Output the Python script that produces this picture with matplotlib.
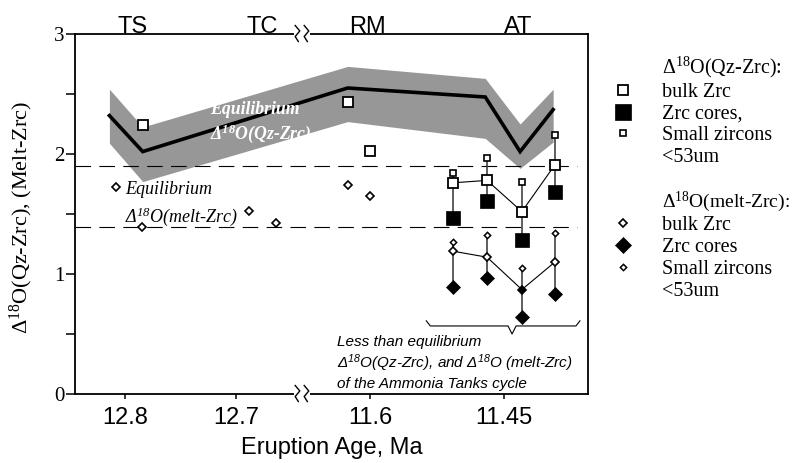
import numpy as np
import matplotlib
matplotlib.use('Agg')
import matplotlib.pyplot as plt
import matplotlib.transforms as mtransforms
from matplotlib.lines import Line2D
from matplotlib.patches import Rectangle

plt.rcParams['mathtext.fontset'] = 'custom'
plt.rcParams['mathtext.rm'] = 'Liberation Serif'

SERIF = 'Liberation Serif'
SANS = 'Liberation Sans'

# eruption cycles along the top
cycle_names = ['TS', 'TC', 'RM', 'AT']
cycle_ages = [12.793, 12.676, 11.603, 11.434]

# equilibrium Δ18O(Qz-Zrc) curve and its uncertainty band
eq_age = [12.814, 12.784, 11.625, 11.471, 11.432, 11.395]
eq_qz_zrc = [2.32, 2.02, 2.55, 2.475, 2.02, 2.37]
eq_upper = [2.54, 2.225, 2.73, 2.63, 2.25, 2.54]
eq_lower = [2.09, 1.77, 2.27, 2.13, 1.88, 2.10]

# equilibrium Δ18O(melt-Zrc) range
melt_eq_range = [1.90, 1.39]

# bulk zircon, TS / TC / RM
bulk_qz_age = [12.784, 11.625, 11.600]
bulk_qz = [2.24, 2.43, 2.025]
bulk_melt_age = [12.808, 12.785, 12.688, 12.664, 11.625, 11.600]
bulk_melt = [1.725, 1.39, 1.525, 1.425, 1.74, 1.65]

# Ammonia Tanks cycle
at_age = [11.507, 11.469, 11.430, 11.393]
at_small_qz = [1.84, 1.97, 1.77, 2.16]
at_bulk_qz = [1.76, 1.78, 1.52, 1.91]
at_core_qz = [1.465, 1.61, 1.28, 1.68]
at_small_melt = [1.27, 1.325, 1.05, 1.34]
at_bulk_melt = [1.19, 1.14, 0.87, 1.10]
at_bulk_melt_fill = ['white', 'white', 'black', 'white']
at_core_melt = [0.89, 0.97, 0.64, 0.83]

xticks = [12.8, 12.7, 11.6, 11.45]
xtick_labels = ['12.8', '12.7', '11.6', '11.45']

# broken age axis: two linear pieces joined at the break
BREAK_U = 302.0


def age_to_u(a):
    a = np.asarray(a, dtype=float)
    left = 125 + (12.8 - a) * 1110
    right = 370 + (11.6 - a) * 893.3
    return np.where(a >= 12.2, np.minimum(left, BREAK_U), np.maximum(right, BREAK_U))


def u_to_age(u):
    u = np.asarray(u, dtype=float)
    return np.where(u <= BREAK_U, 12.8 - (u - 125) / 1110, 11.6 - (u - 370) / 893.3)


fig = plt.figure(figsize=(7.95, 4.63), dpi=100)
ax = fig.add_axes([75 / 795, 69 / 463, 513 / 795, 360 / 463])
ax.set_xscale('function', functions=(age_to_u, u_to_age))
ax.set_xlim(11.356, 12.845)
ax.set_ylim(0, 3)

for s in ax.spines.values():
    s.set_linewidth(1.3)

ax.set_xticks(xticks)
ax.set_xticklabels(xtick_labels, family=SANS, fontsize=17)
ax.tick_params(axis='x', length=3.8, width=1.1, pad=5.5)
ax.set_yticks([0, 1, 2, 3])
ax.set_yticks([0.5, 1.5, 2.5], minor=True)
ax.set_yticklabels(['0', '1', '2', '3'], family=SERIF, fontsize=15)
ax.tick_params(axis='y', which='both', length=6.5, width=1.1, pad=1)

ax.set_xlabel('Eruption Age, Ma', family=SANS, fontsize=17, labelpad=6)
ax.set_ylabel(r'$\mathregular{\Delta^{18}}$O(Qz-Zrc), (Melt-Zrc)', family=SERIF, fontsize=16)
ax.yaxis.set_label_coords(-0.078, 0.49)

# equilibrium quartz-zircon band and curve
ax.fill_between(eq_age, eq_lower, eq_upper, color='#979797', lw=0, zorder=1)
ax.plot(eq_age, eq_qz_zrc, color='black', lw=2.6, zorder=3, solid_joinstyle='miter')

for y in melt_eq_range:
    ax.axhline(y, xmin=0, xmax=0.978, color='black', lw=0.8, dashes=(14, 7.5), zorder=2)

# TS, TC and RM samples
ax.plot(bulk_qz_age, bulk_qz, ls='none', marker='s', ms=7.5, mfc='white',
        mec='black', mew=1.3, zorder=5)
ax.plot(bulk_melt_age, bulk_melt, ls='none', marker='D', ms=4.4, mfc='white',
        mec='black', mew=1.2, zorder=5)

# Ammonia Tanks: stems per unit, then the bulk trend, then markers
for i, a in enumerate(at_age):
    ax.plot([a, a], [at_small_qz[i], at_core_qz[i]], color='#333333', lw=1.1, zorder=3)
    ax.plot([a, a], [at_small_melt[i], at_core_melt[i]], color='#333333', lw=1.1, zorder=3)
ax.plot(at_age, at_bulk_qz, color='black', lw=0.8, zorder=3)
ax.plot(at_age, at_bulk_melt, color='black', lw=0.8, zorder=3)

ax.plot(at_age, at_core_qz, ls='none', marker='s', ms=10, mfc='black', mec='black',
        mew=0.5, zorder=5)
ax.plot(at_age, at_bulk_qz, ls='none', marker='s', ms=7.5, mfc='white', mec='black',
        mew=1.3, zorder=5)
ax.plot(at_age, at_small_qz, ls='none', marker='s', ms=4.8, mfc='white', mec='black',
        mew=1.2, zorder=5)
ax.plot(at_age, at_core_melt, ls='none', marker='D', ms=7, mfc='black', mec='black',
        mew=0.5, zorder=5)
for a, y, fc in zip(at_age, at_bulk_melt, at_bulk_melt_fill):
    ax.plot(a, y, ls='none', marker='D', ms=4.4, mfc=fc, mec='black', mew=1.2, zorder=5)
ax.plot(at_age, at_small_melt, ls='none', marker='D', ms=3.2, mfc='white', mec='black',
        mew=1.1, zorder=5)

# labels inside the plot
ax.text(12.7234, 2.37, 'Equilibrium', color='white', family=SERIF, style='italic',
        weight='bold', fontsize=12.8, va='center', ha='left', zorder=6)
ax.text(12.7234, 2.17, r'$\mathregular{\Delta^{18}}$O(Qz-Zrc)', color='white', family=SERIF,
        style='italic', weight='bold', fontsize=12.8, va='center', ha='left', zorder=6)
ax.text(12.800, 1.70, 'Equilibrium', family=SERIF, style='italic', fontsize=13,
        va='center', ha='left', zorder=6)
ax.text(12.800, 1.48, r'$\mathregular{\Delta^{18}}$O(melt-Zrc)', family=SERIF, style='italic',
        fontsize=13, va='center', ha='left', zorder=6)
ax.text(11.637, 0.26,
        'Less than equilibrium\n'
        r'$\mathregular{\Delta^{18}}$O(Qz-Zrc), and $\mathregular{\Delta^{18}}$O (melt-Zrc)' '\n'
        'of the Ammonia Tanks cycle',
        family=SANS, style='italic', fontsize=11, linespacing=1.25,
        va='center', ha='left', zorder=6)

# brace under the Ammonia Tanks data
b_left, b_tip, b_right = 11.537, 11.441, 11.365
d = 0.0045
bx = [b_left, b_left - d, b_tip + d, b_tip, b_tip - d, b_right + d, b_right]
by = [0.61, 0.567, 0.567, 0.50, 0.567, 0.567, 0.61]
ax.plot(bx, by, color='black', lw=0.8, zorder=4)

# cycle names above the frame
top = mtransforms.blended_transform_factory(ax.transData, ax.transAxes)
for name, a in zip(cycle_names, cycle_ages):
    ax.text(a, 1.003, name, transform=top, family=SANS, fontsize=17,
            ha='center', va='baseline')

# break marks on top and bottom spines
bxf = (BREAK_U - 75) / 513
zig = np.array([[-2.3, 8.5], [2.3, 3.0], [-2.3, -2.5], [0.8, -7.5]]) / 100.0
for yf in (0.0, 1.0):
    ax.add_patch(Rectangle((bxf - 8 / 513, yf - 4 / 360), 16 / 513, 8 / 360,
                           transform=ax.transAxes, facecolor='white', edgecolor='none',
                           clip_on=False, zorder=7))
    tr = fig.dpi_scale_trans + mtransforms.ScaledTranslation(bxf, yf, ax.transAxes)
    for dx in (-4.5, 4.5):
        ax.plot(zig[:, 0] + dx / 100.0, zig[:, 1], transform=tr, color='black',
                lw=1.0, clip_on=False, zorder=8)

# legend
handles = [
    Line2D([], [], ls='none'),
    Line2D([], [], ls='none', marker='s', ms=7.5, mfc='white', mec='black', mew=1.3),
    Line2D([], [], ls='none', marker='s', ms=11, mfc='black', mec='black', mew=0.5),
    Line2D([], [], ls='none', marker='s', ms=4.8, mfc='white', mec='black', mew=1.2),
    Line2D([], [], ls='none'),
    Line2D([], [], ls='none'),
    Line2D([], [], ls='none'),
    Line2D([], [], ls='none', marker='D', ms=4.4, mfc='white', mec='black', mew=1.2),
    Line2D([], [], ls='none', marker='D', ms=8, mfc='black', mec='black', mew=0.5),
    Line2D([], [], ls='none', marker='D', ms=3.2, mfc='white', mec='black', mew=1.1),
    Line2D([], [], ls='none'),
]
labels = [
    r'$\mathregular{\Delta^{18}}$O(Qz-Zrc):', 'bulk Zrc', 'Zrc cores,', 'Small zircons',
    '<53um', ' ',
    r'$\mathregular{\Delta^{18}}$O(melt-Zrc):', 'bulk Zrc', 'Zrc cores', 'Small zircons',
    '<53um',
]
leg = ax.legend(handles, labels, loc='upper left', bbox_to_anchor=(612 / 795, 1 - 55 / 463),
                bbox_transform=fig.transFigure, frameon=False,
                prop={'family': SERIF, 'size': 14.5}, handlelength=1.08, handletextpad=1.4,
                labelspacing=0.13, borderpad=0, borderaxespad=0)
leg_texts = leg.get_texts()
leg_texts[5].set_fontsize(11)
leg_texts[6].set_fontsize(14)

fig.savefig('out.png', dpi=100)
